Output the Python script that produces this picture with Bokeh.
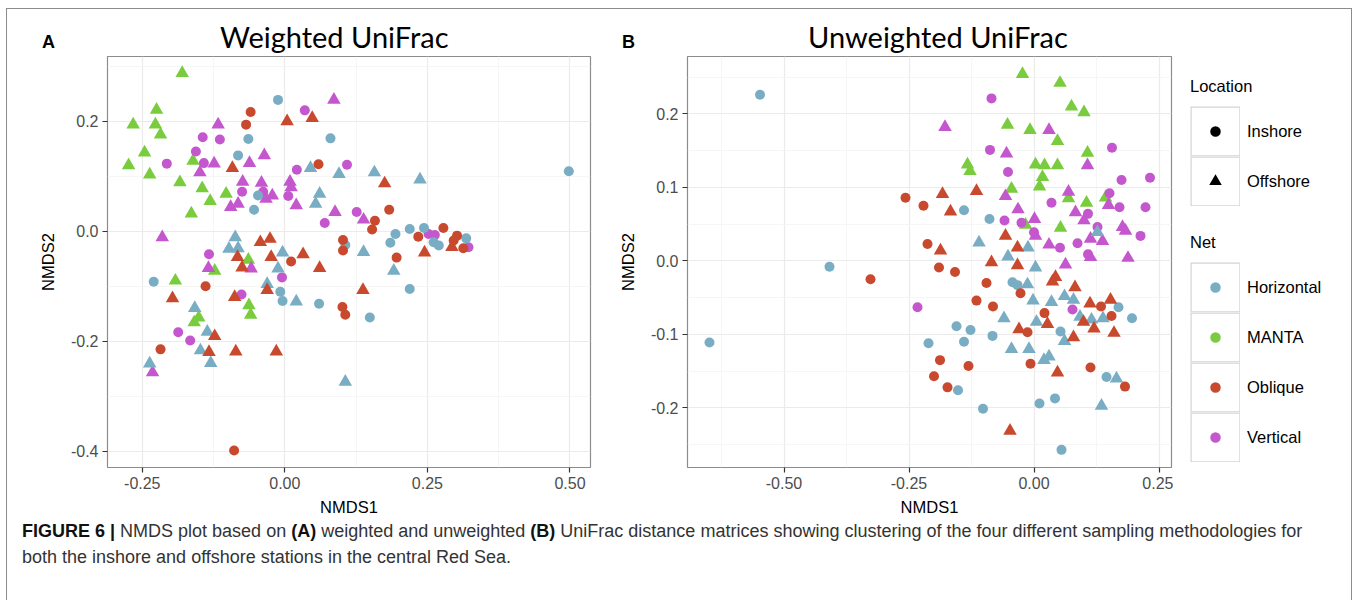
import numpy as np
from bokeh.plotting import figure
from bokeh.models import (Range1d, FixedTicker, NumeralTickFormatter, Legend, LegendItem, Div)
from bokeh.layouts import row, column
from bokeh.embed import file_html
from bokeh.resources import INLINE

# ---------------- data ----------------
NETS = ["Horizontal", "MANTA", "Oblique", "Vertical"]
LOCATIONS = ["Inshore", "Offshore"]
NET_COLORS = ["#79adc4", "#7acc3f", "#c8492d", "#c457ce"]
PANEL_LETTERS = ["A", "B"]
PANEL_TITLES = ["Weighted UniFrac", "Unweighted UniFrac"]

# Panel A : Weighted UniFrac
a_horizontal_in_x = [-0.012, -0.064, 0.080, -0.082, -0.047, -0.054, 0.498, 0.194, 0.185, 0.219, 0.244,
                     0.261, 0.270, 0.318, 0.106, -0.230, -0.008, -0.004, 0.060, 0.219, 0.149]
a_horizontal_in_y = [0.239, 0.168, 0.169, 0.138, 0.065, 0.039, 0.109, -0.005, -0.021, 0.004, 0.006,
                     -0.020, -0.026, -0.013, -0.025, -0.092, -0.110, -0.127, -0.132, -0.105, -0.157]
a_horizontal_off_x = [0.045, 0.095, 0.061, 0.054, 0.157, 0.237, -0.087, -0.098, -0.082, -0.004, -0.012,
                      -0.031, 0.020, -0.158, -0.136, -0.148, -0.130, -0.237, 0.138, 0.191, 0.106]
a_horizontal_off_y = [0.115, 0.104, 0.068, 0.050, 0.107, 0.094, -0.011, -0.032, -0.031, -0.039, -0.068,
                      -0.096, -0.128, -0.140, -0.183, -0.217, -0.240, -0.241, -0.038, -0.072, -0.274]
a_manta_off_x = [-0.180, -0.225, -0.266, -0.227, -0.218, -0.246, -0.274, -0.161, -0.237, -0.184, -0.145,
                 -0.103, -0.131, -0.164, -0.064, -0.123, -0.192, -0.063, -0.060, -0.151, -0.159]
a_manta_off_y = [0.288, 0.221, 0.194, 0.194, 0.176, 0.143, 0.120, 0.128, 0.103, 0.089, 0.078,
                 0.068, 0.055, 0.032, -0.052, -0.072, -0.090, -0.135, -0.152, -0.157, -0.166]
a_oblique_in_x = [-0.060, -0.068, 0.059, 0.183, 0.158, 0.153, 0.011, 0.234, 0.278, 0.302, 0.296,
                  0.313, 0.102, 0.102, 0.196, -0.139, 0.101, 0.106, -0.218, -0.089]
a_oblique_in_y = [0.217, 0.194, 0.122, 0.039, 0.019, 0.003, -0.055, -0.010, 0.006, -0.008, -0.017,
                  -0.031, -0.016, -0.035, -0.048, -0.100, -0.138, -0.152, -0.215, -0.399]
a_oblique_off_x = [0.004, 0.048, -0.092, 0.175, -0.043, -0.026, 0.032, -0.024, -0.083, -0.075, 0.061,
                   -0.031, -0.197, -0.088, -0.123, -0.133, -0.086, -0.015, 0.293, 0.137, 0.245]
a_oblique_off_y = [0.200, 0.206, 0.115, 0.087, -0.020, -0.014, -0.042, -0.047, -0.047, -0.066, -0.067,
                   -0.107, -0.122, -0.120, -0.191, -0.220, -0.219, -0.219, -0.029, -0.107, -0.039]
a_vertical_in_x = [0.035, -0.144, -0.114, -0.156, -0.207, -0.142, 0.021, -0.075, -0.038, 0.006, 0.070,
                   -0.133, -0.005, -0.076, -0.187, -0.166, 0.109, 0.126, 0.252, 0.263, 0.322]
a_vertical_in_y = [0.220, 0.171, 0.167, 0.145, 0.123, 0.124, 0.112, 0.072, 0.072, 0.064, 0.015,
                   -0.042, -0.084, -0.115, -0.184, -0.199, 0.121, 0.035, -0.005, -0.007, -0.029]
a_vertical_off_x = [0.086, -0.117, -0.124, -0.062, -0.036, -0.149, -0.074, -0.041, 0.009, 0.011, -0.022,
                    -0.033, -0.082, -0.095, 0.020, 0.088, -0.215, -0.134, -0.059, 0.138, -0.232]
a_vertical_off_y = [0.239, 0.194, 0.123, 0.124, 0.138, 0.107, 0.090, 0.088, 0.090, 0.080, 0.065,
                    0.059, 0.050, 0.044, 0.047, 0.035, -0.011, -0.067, -0.068, 0.021, -0.257]

# Panel B : Unweighted UniFrac
b_horizontal_in_x = [-0.548, -0.409, -0.649, -0.211, -0.140, -0.089, -0.043, -0.033, 0.169, 0.196, -0.155,
                     -0.127, -0.083, 0.053, -0.140, 0.145, -0.152, 0.011, 0.042, -0.102, 0.055]
b_horizontal_in_y = [0.226, -0.008, -0.111, -0.112, 0.069, 0.057, -0.029, -0.033, -0.063, -0.078, -0.089,
                     -0.094, -0.102, -0.096, -0.110, -0.158, -0.176, -0.194, -0.187, -0.201, -0.257]
b_horizontal_off_x = [-0.110, -0.012, -0.052, 0.127, 0.003, -0.013, -0.002, 0.035, 0.061, 0.079, -0.060,
                      0.005, 0.092, 0.115, 0.138, 0.061, -0.045, -0.010, 0.020, 0.030, 0.165, 0.135]
b_horizontal_off_y = [0.025, 0.018, 0.006, 0.039, -0.009, -0.032, -0.054, -0.056, -0.048, -0.053, -0.078,
                      -0.083, -0.076, -0.080, -0.078, -0.109, -0.120, -0.120, -0.135, -0.130, -0.160, -0.197]
b_manta_off_x = [-0.023, 0.052, 0.075, 0.100, -0.053, -0.008, 0.047, 0.107, -0.133, -0.128, 0.003,
                 0.021, 0.047, 0.017, 0.011, -0.045, 0.069, 0.143, 0.105, -0.017, 0.053]
b_manta_off_y = [0.254, 0.242, 0.210, 0.202, 0.185, 0.178, 0.163, 0.147, 0.131, 0.122, 0.131,
                 0.130, 0.130, 0.114, 0.101, 0.098, 0.085, 0.086, 0.079, 0.049, 0.045]
b_oblique_in_x = [-0.257, -0.221, -0.213, -0.327, -0.190, -0.158, -0.095, -0.027, -0.115, -0.082, 0.134,
                  0.155, 0.021, -0.013, -0.188, -0.131, -0.007, 0.113, -0.200, 0.182, -0.173]
b_oblique_in_y = [0.086, 0.075, 0.023, -0.025, -0.009, -0.015, -0.030, -0.044, -0.054, -0.062, -0.062,
                  -0.075, -0.071, -0.097, -0.135, -0.143, -0.140, -0.145, -0.157, -0.171, -0.172]
b_oblique_off_x = [-0.183, -0.115, -0.167, -0.187, -0.057, -0.033, -0.085, -0.033, 0.037, 0.043, 0.082,
                   0.112, 0.153, 0.027, 0.099, 0.120, -0.030, 0.160, 0.079, 0.047, -0.048]
b_oblique_off_y = [0.091, 0.095, 0.067, 0.014, 0.034, 0.018, -0.002, -0.006, -0.028, -0.022, -0.036,
                   -0.058, -0.053, -0.086, -0.083, -0.092, -0.093, -0.098, -0.104, -0.152, -0.231]
b_vertical_in_x = [-0.085, -0.088, 0.156, -0.052, 0.175, 0.232, 0.035, 0.151, 0.171, 0.223, 0.108,
                   -0.059, -0.025, 0.127, 0.213, 0.000, 0.087, 0.052, 0.108, -0.233, 0.077]
b_vertical_in_y = [0.221, 0.151, 0.154, 0.121, 0.110, 0.113, 0.079, 0.092, 0.073, 0.073, 0.064,
                   0.055, 0.052, 0.046, 0.034, 0.039, 0.024, 0.018, 0.009, -0.063, -0.066]
b_vertical_off_x = [-0.178, 0.030, -0.055, 0.107, -0.057, 0.069, 0.149, -0.032, 0.083, 0.100, 0.001,
                    0.177, 0.183, 0.003, 0.113, 0.137, 0.030, 0.188, 0.063, 0.113]
b_vertical_off_y = [0.182, 0.178, 0.146, 0.130, 0.088, 0.094, 0.076, 0.070, 0.066, 0.055, 0.057,
                    0.046, 0.041, 0.034, 0.030, 0.027, 0.022, 0.004, -0.005, 0.005]

A_X_TICKS = [-0.25, 0.0, 0.25, 0.50]
A_Y_TICKS = [-0.4, -0.2, 0.0, 0.2]
B_X_TICKS = [-0.50, -0.25, 0.0, 0.25]
B_Y_TICKS = [-0.2, -0.1, 0.0, 0.1, 0.2]

CAPTION = ('<b style="color:#111">FIGURE 6 |</b> NMDS plot based on <b style="color:#111">(A)</b> weighted and '
           'unweighted <b style="color:#111">(B)</b> UniFrac '
           'distance matrices showing clustering of the four different sampling methodologies for<br>'
           'both the inshore and offshore stations in the central Red Sea.')

FONT = "Liberation Sans"
TITLE_FONT = "Lato"
FIG_H = 463


def minors(ticks):
    step = ticks[1] - ticks[0]
    out = [ticks[0] - step / 2]
    for t in ticks:
        out.append(t + step / 2)
    return out


def style_axes(p, xt, yt, xfmt, yfmt):
    xtk = FixedTicker(ticks=xt, minor_ticks=minors(xt))
    ytk = FixedTicker(ticks=yt, minor_ticks=minors(yt))
    p.xaxis.ticker = xtk
    p.yaxis.ticker = ytk
    p.xgrid.ticker = xtk
    p.ygrid.ticker = ytk
    p.xaxis.formatter = NumeralTickFormatter(format=xfmt)
    p.yaxis.formatter = NumeralTickFormatter(format=yfmt)
    for g in (p.xgrid, p.ygrid):
        g.grid_line_color = "#ebebeb"
        g.grid_line_width = 1.2
        g.minor_grid_line_color = "#f4f4f4"
        g.minor_grid_line_width = 0.8
    for ax in (p.xaxis, p.yaxis):
        ax.axis_line_color = None
        ax.major_tick_line_color = "#333333"
        ax.major_tick_line_width = 1.2
        ax.major_tick_out = 5
        ax.major_tick_in = 0
        ax.minor_tick_line_color = None
        ax.major_label_text_font = FONT
        ax.major_label_text_font_size = "16px"
        ax.major_label_text_color = "#4d4d4d"
        ax.major_label_standoff = 4
        ax.axis_label_text_font = FONT
        ax.axis_label_text_font_size = "16.5px"
        ax.axis_label_text_font_style = "normal"
        ax.axis_label_text_color = "black"
    p.xaxis.axis_label_standoff = 6
    p.yaxis.axis_label_standoff = 11
    p.xaxis.axis_label = "NMDS1"
    p.yaxis.axis_label = "NMDS2"


def make_panel(width, xr, yr, borders, series):
    left, right, top, bottom = borders
    p = figure(width=width, height=FIG_H, x_range=Range1d(*xr), y_range=Range1d(*yr),
               output_backend="svg", toolbar_location=None,
               min_border_left=left, min_border_right=right, min_border_top=top,
               min_border_bottom=bottom, background_fill_color="white",
               border_fill_color="white", outline_line_color="#8c8c8c", outline_line_width=1.2)
    for xs, ys, net, loc in series:
        color = NET_COLORS[NETS.index(net)]
        if loc == "Inshore":
            p.scatter(xs, ys, marker="circle", size=10, fill_color=color, line_color=None)
        else:
            p.scatter(xs, ys, marker="triangle", size=13.5, fill_color=color, line_color=None)
    return p


series_a = [
    (a_manta_off_x, a_manta_off_y, "MANTA", "Offshore"),
    (a_vertical_off_x, a_vertical_off_y, "Vertical", "Offshore"),
    (a_vertical_in_x, a_vertical_in_y, "Vertical", "Inshore"),
    (a_horizontal_in_x, a_horizontal_in_y, "Horizontal", "Inshore"),
    (a_horizontal_off_x, a_horizontal_off_y, "Horizontal", "Offshore"),
    (a_oblique_in_x, a_oblique_in_y, "Oblique", "Inshore"),
    (a_oblique_off_x, a_oblique_off_y, "Oblique", "Offshore"),
]
series_b = [
    (b_manta_off_x, b_manta_off_y, "MANTA", "Offshore"),
    (b_vertical_off_x, b_vertical_off_y, "Vertical", "Offshore"),
    (b_vertical_in_x, b_vertical_in_y, "Vertical", "Inshore"),
    (b_horizontal_in_x, b_horizontal_in_y, "Horizontal", "Inshore"),
    (b_horizontal_off_x, b_horizontal_off_y, "Horizontal", "Offshore"),
    (b_oblique_in_x, b_oblique_in_y, "Oblique", "Inshore"),
    (b_oblique_off_x, b_oblique_off_y, "Oblique", "Offshore"),
]

pA = make_panel(589, (-0.311, 0.536), (-0.430, 0.318), (100, 6, 1, 51), series_a)
style_axes(pA, A_X_TICKS, A_Y_TICKS, "0.00", "0.0")
pB = make_panel(577, (-0.693, 0.275), (-0.281, 0.278), (91, 2, 1, 50), series_b)
style_axes(pB, B_X_TICKS, B_Y_TICKS, "0.00", "0.0")

# ---------------- legend panel (legend-only proxy renderers, NaN = not drawn) ----------------
pL = figure(width=178, height=FIG_H, x_range=Range1d(0, 1), y_range=Range1d(0, 1),
            output_backend="svg", toolbar_location=None, x_axis_location=None,
            y_axis_location=None, min_border=0, outline_line_color=None,
            background_fill_color="white", border_fill_color="white")
pL.grid.visible = False
NO_POS = np.array([np.nan])
key_edge = pL.rect(x=NO_POS, y=NO_POS, width=1, height=1, fill_color=None,
                   line_color="#d4d4d4", line_width=10, line_join="miter")
key_fill = pL.rect(x=NO_POS, y=NO_POS, width=1, height=1, fill_color="white",
                   line_color="white", line_width=7.6, line_join="miter")
key_in = pL.scatter(x=NO_POS, y=NO_POS, marker="circle", size=10, fill_color="black",
                    line_color="white", line_width=9.5)
key_off = pL.scatter(x=NO_POS, y=NO_POS, marker="triangle", size=10, fill_color="black",
                     line_color="white", line_width=4.3)
net_keys = [pL.scatter(x=NO_POS, y=NO_POS, marker="circle", size=10, fill_color=c,
                       line_color="white", line_width=9.5) for c in NET_COLORS]


def make_legend(title, items, loc):
    return Legend(items=items, title=title, location=loc, orientation="vertical",
                  glyph_width=50, glyph_height=50, spacing=0, label_standoff=7,
                  padding=0, margin=0, border_line_color=None, background_fill_alpha=0,
                  title_text_font=FONT, title_text_font_size="16.5px", title_text_font_style="normal",
                  title_text_color="black", title_standoff=10,
                  label_text_font=FONT, label_text_font_size="16.5px", label_text_color="black")


loc_legend = make_legend("Location",
                         [LegendItem(label=LOCATIONS[0], renderers=[key_edge, key_fill, key_in]),
                          LegendItem(label=LOCATIONS[1], renderers=[key_edge, key_fill, key_off])],
                         (17, 261))
net_legend = make_legend("Net",
                         [LegendItem(label=n, renderers=[key_edge, key_fill, r])
                          for n, r in zip(NETS, net_keys)],
                         (17, 5))
pL.add_layout(loc_legend)
pL.add_layout(net_legend)

# ---------------- header (panel letters and titles) ----------------
letter_css = ("position:absolute;font-family:Liberation Sans;font-weight:bold;font-size:18px;"
              "line-height:18px;color:#000;")
title_css = ("position:absolute;font-family:Lato;font-size:29px;line-height:35px;color:#000;"
             "white-space:nowrap;")
header_html = (
    '<div style="position:relative;width:1344px;height:46px;">'
    f'<span style="{letter_css}left:35px;top:24px;">{PANEL_LETTERS[0]}</span>'
    f'<span style="{title_css}left:213px;top:10px;">{PANEL_TITLES[0]}</span>'
    f'<span style="{letter_css}left:615px;top:24px;">{PANEL_LETTERS[1]}</span>'
    f'<span style="{title_css}left:801px;top:10px;">{PANEL_TITLES[1]}</span>'
    '</div>'
)
header = Div(text=header_html, width=1344, height=46, margin=0)

cap = Div(text=CAPTION, width=1344, height=90, margin=0,
          styles={"font-family": "Liberation Sans, Arial, sans-serif", "font-size": "18px",
                  "line-height": "26px", "color": "#333333", "padding-left": "15px",
                  "white-space": "nowrap"})

layout = column(header, row(pA, pB, pL), cap, margin=(8, 0, 0, 6),
                styles={"border": "1px solid #8c8c8c"})

open("out.html", "w").write(file_html(layout, INLINE))
